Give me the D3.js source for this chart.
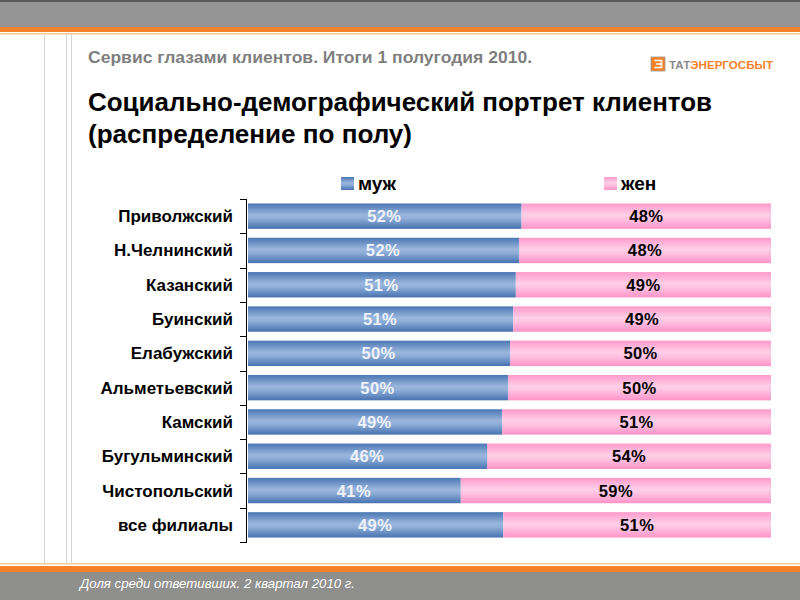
<!DOCTYPE html>
<html><head><meta charset="utf-8">
<script src="https://cdn.jsdelivr.net/npm/d3@7"></script>
<style>body{margin:0;background:#fff}svg{display:block}</style>
</head><body>
<script>
const categories = ["Приволжский","Н.Челнинский","Казанский","Буинский","Елабужский","Альметьевский","Камский","Бугульминский","Чистопольский","все филиалы"];
const maleValues = [52.4,51.9,51.3,50.8,50.2,49.8,48.7,45.8,40.8,48.9];
const femaleValues = [47.6,48.1,48.7,49.2,49.8,50.2,51.3,54.2,59.2,51.1];
const maleLabels = ["52%","52%","51%","51%","50%","50%","49%","46%","41%","49%"];
const femaleLabels = ["48%","48%","49%","49%","50%","50%","51%","54%","59%","51%"];
const seriesNames = ["муж","жен"];

const W=800,H=600;
const FONT="Liberation Sans, Arial, sans-serif";
const svg=d3.select("body").append("svg").attr("width",W).attr("height",H);
const defs=svg.append("defs");
function grad(id,stops){const g=defs.append("linearGradient").attr("id",id).attr("x1",0).attr("y1",0).attr("x2",0).attr("y2",1);
 stops.forEach(s=>g.append("stop").attr("offset",s[0]).attr("stop-color",s[1]));}
grad("gBlue",[[0,"#4a77b4"],[0.45,"#9ab6dc"],[0.6,"#8eadd7"],[1,"#4672b0"]]);
grad("gPink",[[0,"#ff9acb"],[0.45,"#ffcfe8"],[0.6,"#ffc4e2"],[1,"#ff93c8"]]);

// frame
svg.append("rect").attr("x",0).attr("y",0).attr("width",W).attr("height",27).attr("fill","#959595");
svg.append("rect").attr("x",0).attr("y",0).attr("width",W).attr("height",2).attr("fill","#5a5a5a");
svg.append("rect").attr("x",0).attr("y",27).attr("width",W).attr("height",5).attr("fill","#f5822a");
svg.append("rect").attr("x",0).attr("y",33).attr("width",W).attr("height",1.5).attr("fill","#f9c99a");
svg.append("rect").attr("x",0).attr("y",563).attr("width",W).attr("height",1.5).attr("fill","#f9c99a");
svg.append("rect").attr("x",0).attr("y",566).attr("width",W).attr("height",6).attr("fill","#f5822a");
svg.append("rect").attr("x",0).attr("y",572).attr("width",W).attr("height",28).attr("fill","#8f8f8d");
[44,66,71].forEach(x=>svg.append("line").attr("x1",x+0.5).attr("x2",x+0.5).attr("y1",34).attr("y2",563).attr("stroke","#d6d6d6").attr("stroke-width",1));

svg.append("text").attr("x",80).attr("y",588).attr("fill","#fff").attr("font-family",FONT).attr("font-style","italic").attr("font-size",13)
 .attr("textLength",275).attr("lengthAdjust","spacingAndGlyphs").text("Доля среди ответивших. 2 квартал 2010 г.");

svg.append("text").attr("x",88).attr("y",63).attr("fill","#7f7f7f").attr("font-family","Liberation Sans Narrow, Liberation Sans, Arial, sans-serif").attr("font-weight","bold").attr("font-size",17)
 .attr("textLength",444).attr("lengthAdjust","spacingAndGlyphs").text("Сервис глазами клиентов. Итоги 1 полугодия 2010.");
svg.append("text").attr("x",88).attr("y",111).attr("fill","#000").attr("font-family",FONT).attr("font-weight","bold").attr("font-size",25)
 .attr("textLength",624).attr("lengthAdjust","spacingAndGlyphs").text("Социально-демографический портрет клиентов");
svg.append("text").attr("x",88).attr("y",143).attr("fill","#000").attr("font-family",FONT).attr("font-weight","bold").attr("font-size",25)
 .attr("textLength",324).attr("lengthAdjust","spacingAndGlyphs").text("(распределение по полу)");

// logo
const lg=svg.append("g");
lg.append("rect").attr("x",651).attr("y",57).attr("width",14).attr("height",14).attr("fill","#f5822a").attr("stroke","#999").attr("stroke-width",0.8);
lg.append("path").attr("d","M654.5,60.5 H661.5 V67.5 H654.5 M656,64 H661").attr("fill","none").attr("stroke","#fff").attr("stroke-width",1.6);
const lt=lg.append("text").attr("x",669).attr("y",69).attr("font-family",FONT).attr("font-weight","bold").attr("font-size",11.5)
 .attr("textLength",104).attr("lengthAdjust","spacingAndGlyphs");
lt.append("tspan").attr("fill","#8a8a8a").text("ТАТ");
lt.append("tspan").attr("fill","#f5822a").text("ЭНЕРГОСБЫТ");

// chart
const x=d3.scaleLinear().domain([0,100]).range([247,771]);
const y=d3.scaleBand().domain(categories).range([199,542]).paddingInner(0.26).paddingOuter(0.13);
const stepH=y.step();

const axis=svg.append("g");
axis.append("line").attr("x1",246.5).attr("x2",246.5).attr("y1",199).attr("y2",542).attr("stroke","#000");
d3.range(categories.length+1).forEach(i=>{const yy=Math.round(199+i*stepH)+0.5;
 axis.append("line").attr("x1",240).attr("x2",247).attr("y1",yy).attr("y2",yy).attr("stroke","#000");});
svg.append("g").selectAll("text").data(categories).join("text")
 .attr("x",233).attr("y",d=>y(d)+y.bandwidth()/2+6).attr("text-anchor","end")
 .attr("font-family",FONT).attr("font-weight","bold").attr("font-size",17).attr("fill","#000").text(d=>d);

const rows=categories.map((c,i)=>({c,m:maleValues[i],f:femaleValues[i],ml:maleLabels[i],fl:femaleLabels[i]}));
const g=svg.append("g");
g.selectAll(".m").data(rows).join("rect").attr("x",x(0)+1).attr("y",d=>y(d.c)).attr("width",d=>x(d.m)-x(0)-1).attr("height",y.bandwidth()).attr("fill","url(#gBlue)");
g.selectAll(".f").data(rows).join("rect").attr("x",d=>x(d.m)).attr("y",d=>y(d.c)).attr("width",d=>x(d.m+d.f)-x(d.m)).attr("height",y.bandwidth()).attr("fill","url(#gPink)");
g.selectAll(".ml").data(rows).join("text").attr("x",d=>(x(0)+x(d.m))/2).attr("y",d=>y(d.c)+y.bandwidth()/2+6).attr("text-anchor","middle")
 .attr("font-family",FONT).attr("font-weight","bold").attr("font-size",16.5).attr("letter-spacing",0.4).attr("fill","#eef2fa").text(d=>d.ml);
g.selectAll(".fl").data(rows).join("text").attr("x",d=>(x(d.m)+x(d.m+d.f))/2).attr("y",d=>y(d.c)+y.bandwidth()/2+6).attr("text-anchor","middle")
 .attr("font-family",FONT).attr("font-weight","bold").attr("font-size",16.5).attr("letter-spacing",0.4).attr("fill","#000").text(d=>d.fl);

// legend
const leg=[{n:seriesNames[0],x:341,f:"url(#gBlue)"},{n:seriesNames[1],x:604,f:"url(#gPink)"}];
const lgg=svg.append("g").selectAll("g").data(leg).join("g").attr("transform",d=>`translate(${d.x},177)`);
lgg.append("rect").attr("width",13).attr("height",13).attr("fill",d=>d.f);
lgg.append("text").attr("x",17).attr("y",13).attr("font-family",FONT).attr("font-weight","bold").attr("font-size",19).attr("fill","#000").text(d=>d.n);
</script>
</body></html>
